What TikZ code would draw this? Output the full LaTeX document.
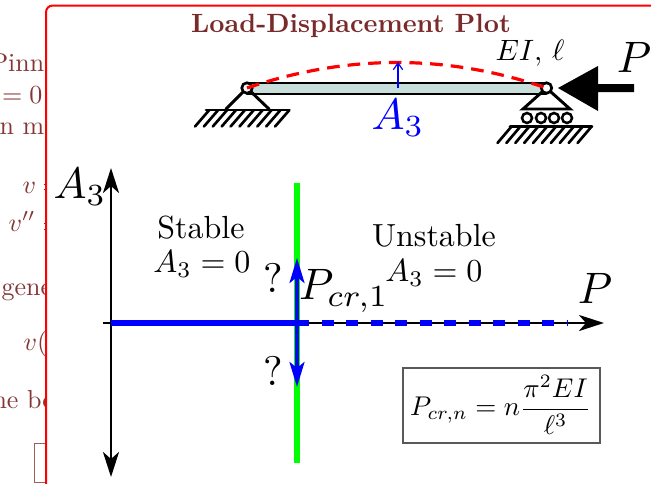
\documentclass[tikz,border=0pt]{standalone}
\usepackage{amsmath}
\usetikzlibrary{arrows.meta}
\definecolor{bgtext}{HTML}{843636}
\definecolor{titlec}{HTML}{7A2A2A}
\definecolor{beamfill}{HTML}{C8DEDA}
\tikzset{
  x=0.75pt,y=-0.75pt,
  bgt/.style={text=bgtext,inner sep=0pt,scale=1.95},
  big/.style={inner sep=0pt,scale=3.3},
  mid/.style={inner sep=0pt,scale=2.4},
  struct/.style={line width=2.2pt,line cap=round},
  hatch/.style={line width=2pt,line cap=round},
  axis/.style={line width=2.1pt,{Stealth[length=25pt*0.75,width=16pt*0.75,inset=7pt*0.75]}-{Stealth[length=25pt*0.75,width=16pt*0.75,inset=7pt*0.75]}},
  axisr/.style={line width=2.1pt,-{Stealth[length=25pt*0.75,width=16pt*0.75,inset=7pt*0.75]}},
  bluearrow/.style={blue,line width=2.6pt,-{Stealth[length=25pt*0.75,width=15pt*0.75,inset=6pt*0.75]}},
  pin/.style={draw,circle,line width=2pt,fill=white,minimum size=10.5pt*0.75,inner sep=0pt},
  roller/.style={draw,circle,line width=1.9pt,fill=white,minimum size=10pt*0.75,inner sep=0pt},
}
\begin{document}
\begin{tikzpicture}
\useasboundingbox (0,0) rectangle (651,483);
% background slide text, cut by the frame
\begin{scope}
\clip (0,0) rectangle (46,483);
\node[bgt,anchor=base west] at (-10,71) {Pinn};
\node[bgt,anchor=base east] at (43,103) {$=0$};
\node[bgt,anchor=base west] at (-1,134) {n m};
\node[bgt,anchor=base west] at (22,193) {$v$};
\node[bgt,anchor=base west] at (8,231) {$v''$};
\node[bgt,anchor=base west] at (1,295) {gene};
\node[bgt,anchor=base west] at (23,350) {$v($};
\node[bgt,anchor=base west] at (-8,408) {he bo};
\draw[bgtext,line width=0.7pt] (43.5,184) -- (46,184) (43.5,189) -- (46,189)
  (43.5,223) -- (46,223) (43.5,229) -- (46,229);
\draw[bgtext!80,line width=0.8pt] (46,443.5) -- (34.5,443.5) -- (34.5,482.5) -- (46,482.5);
\end{scope}
% frame
\draw[red,line width=1.5pt,rounded corners=5pt] (46,490) -- (46,5.5) -- (660,5.5);
% title
\node[inner sep=0pt,text=titlec,scale=1.98,font=\bfseries] (title) at (351,26) {Load-Displacement Plot};
% beam
\fill[beamfill] (247,83) rectangle (546,94);
\draw[struct] (247,83) -- (546,83) (247,94) -- (546,94);
% left support
\coordinate (lp) at (247,88);
\coordinate (rp) at (546.5,88);
\draw[struct] (lp) -- (226,109) (lp) -- (269,109);
\draw[struct] (206,110) -- (288,110);
\foreach \i in {0,...,9}{
  \draw[hatch] ({209.3+\i*8.9},110) -- ({195+\i*8.9},126.5);
}
\node[pin] (lpin) at (lp) {};
% right support
\draw[struct] (rp) -- (523,109) -- (570,109) -- cycle;
\foreach \x [count=\n] in {527,541,554,567}{
  \node[roller] (r\n) at (\x,118) {};
}
\draw[struct] (510,126.5) -- (592,126.5);
\foreach \i in {0,...,9}{
  \draw[hatch] ({511.5+\i*8.9},126.5) -- ({497.5+\i*8.9},143);
}
\node[pin] (rpin) at (rp) {};
% buckled shape
\draw[red,line width=2.4pt,dash pattern=on 9.5pt off 6pt,line cap=butt] (lp) .. controls (347,54) and (447,54) .. (rp);
% A3 on beam
\coordinate (a3top) at (398,62);
\coordinate (a3bot) at (398,88);
\draw[blue,line width=0.9pt,-{Straight Barb[length=5pt,width=7pt]}] (a3bot) -- (a3top);
\node[big,text=blue] (a3b) at (398,118) {$A_3$};
\node[mid,scale=0.92] (ei) at (530,53) {$EI,\,\ell$};
% load
\fill (558,88) -- (598,66) -- (598,84) -- (634,84) -- (634,92) -- (598,92) -- (598,111) -- cycle;
\node[big] (ptop) at (634,57) {$P$};
% axes
\coordinate (vb) at (111,477);
\coordinate (vt) at (111,168);
\coordinate (hl) at (103,323);
\coordinate (hr) at (604,323);
\coordinate (o) at (111,323);
\coordinate (cr) at (297,323);
\coordinate (dashend) at (567.5,323);
\draw[axis] (vb) -- (vt);
\draw[axisr] (hl) -- (hr);
\draw[green,line width=4.5pt] (297,183) -- (297,463);
\draw[blue,line width=4.5pt] (o) -- (cr);
\draw[blue,line width=4.5pt,dash pattern=on 9.19pt off 9.19pt] (cr) -- (dashend);
\draw[bluearrow] (cr) -- (297,258);
\draw[bluearrow] (cr) -- (297,387);
% labels
\node[big] (a3) at (80,187) {$A_3$};
\node[big] (p) at (595,288) {$P$};
\node[big] (pcr) at (344,291) {$P_{cr,1}$};
\node[mid] (st) at (201,228) {Stable};
\node[mid] (st0) at (202,264) {$A_3=0$};
\node[mid] (un) at (434,236) {Unstable};
\node[mid] (un0) at (434,273) {$A_3=0$};
\node[big,scale=0.94] (q1) at (273,278) {?};
\node[big,scale=0.94] (q2) at (273,371) {?};
\node[draw=black!65,line width=0.8pt,minimum width=197pt*0.75,minimum height=75pt*0.75,inner sep=0pt] (fbox) at (501.5,405.5) {};
\node[inner sep=0pt,scale=2.03] (formula) at (500.5,405) {$P_{cr,n}=n\dfrac{\pi^2EI}{\ell^3}$};
\end{tikzpicture}
\end{document}
